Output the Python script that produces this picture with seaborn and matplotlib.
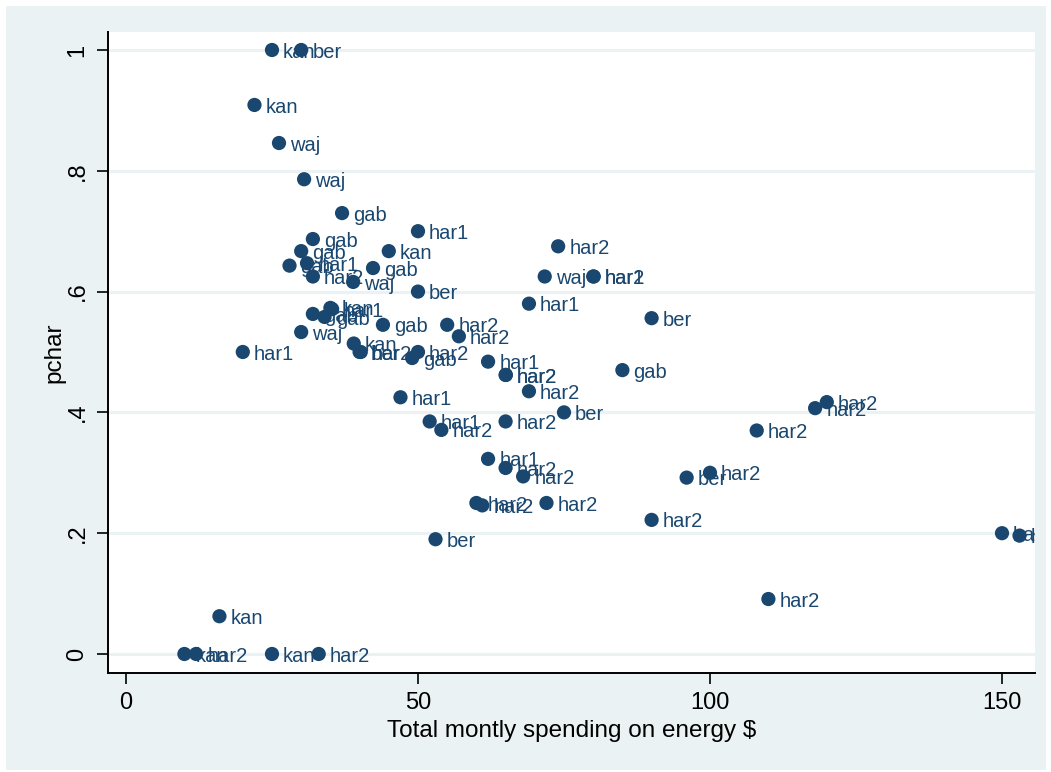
import matplotlib
matplotlib.use("Agg")
import matplotlib.pyplot as plt
import matplotlib.patches as mpatches
import seaborn as sns
import pandas as pd

# Household observations: monthly energy spending, charcoal share, village
spending = [25, 30, 22, 26.2, 30.5, 37, 50, 32, 74, 30, 45, 28, 31, 42.3, 32,
            71.7, 80, 80.1, 38.9, 50, 69, 90, 35, 35.3, 32, 34, 30, 44, 55, 57,
            20, 39, 40, 40.2, 50, 49, 62, 65, 65.05, 69, 85, 47, 52, 54, 65, 75,
            120, 118, 108, 62, 65, 68, 100, 96, 60, 61, 72, 90, 150, 153, 53,
            110, 16, 10, 12, 25, 33]
pchar = [1.0, 1.0, 0.909, 0.846, 0.786, 0.730, 0.700, 0.687, 0.675, 0.667,
         0.667, 0.643, 0.647, 0.639, 0.625, 0.625, 0.625, 0.625, 0.616, 0.600,
         0.580, 0.556, 0.573, 0.571, 0.563, 0.558, 0.533, 0.545, 0.545, 0.526,
         0.500, 0.514, 0.500, 0.500, 0.500, 0.490, 0.484, 0.462, 0.462, 0.435,
         0.470, 0.425, 0.385, 0.371, 0.385, 0.400, 0.417, 0.407, 0.370, 0.323,
         0.308, 0.294, 0.300, 0.292, 0.250, 0.246, 0.250, 0.222, 0.200, 0.196,
         0.190, 0.091, 0.0625, 0.0, 0.0, 0.0, 0.0]
village = ["kan", "ber", "kan", "waj", "waj", "gab", "har1", "gab", "har2", "gab",
           "kan", "gab", "har1", "gab", "har2", "waj", "har2", "har1", "waj", "ber",
           "har1", "ber", "kan", "har1", "gab", "gab", "waj", "gab", "har2", "har2",
           "har1", "kan", "ber", "har2", "har2", "gab", "har1", "har2", "har2", "har2",
           "gab", "har1", "har1", "har2", "har2", "ber", "har2", "har2", "har2", "har1",
           "har2", "har2", "har2", "ber", "har2", "har2", "har2", "har2", "har2", "har2",
           "ber", "har2", "kan", "kan", "har2", "kan", "har2"]

x_ticks = [0, 50, 100, 150]
y_ticks = [0, 0.2, 0.4, 0.6, 0.8, 1.0]
y_tick_labels = ["0", ".2", ".4", ".6", ".8", "1"]

df = pd.DataFrame({"spending": spending, "pchar": pchar, "village": village})

navy = "#1A476F"
region_bg = "#EAF2F3"

sns.set_theme(style="white")
plt.rcParams["font.family"] = ["Liberation Sans", "DejaVu Sans"]

W, H = 1051, 772
fig = plt.figure(figsize=(W / 100, H / 100), dpi=100, facecolor="white")
# graph region: light band framing the plot, thin white margin outside it
fig.patches.append(mpatches.Rectangle((6 / W, 2 / H), (1046 - 6) / W, (766 - 2) / H,
                                      transform=fig.transFigure,
                                      facecolor=region_bg, edgecolor="none",
                                      zorder=-10))
ax = fig.add_axes([108 / W, 1 - 673 / H, (1035 - 108) / W, (673 - 32) / H])
ax.set_facecolor("white")

ax.set_xlim(-3.08, 155.65)
ax.set_ylim(-0.0315, 1.0298)

for yt in y_ticks:
    ax.axhline(yt, color=region_bg, lw=2.2, zorder=0)

sns.scatterplot(data=df, x="spending", y="pchar", color=navy, s=105,
                edgecolor="none", linewidth=0, ax=ax, zorder=3, clip_on=False)

for xv, yv, lab in zip(spending, pchar, village):
    ax.annotate(lab, (xv, yv), xytext=(8, -1.5), textcoords="offset points",
                ha="left", va="center", color=navy, fontsize=14.5,
                zorder=4, annotation_clip=False, clip_on=True)

ax.set_xticks(x_ticks)
ax.set_xticklabels([str(t) for t in x_ticks],
                   family=["Liberation Sans Narrow", "Liberation Sans"], fontsize=17)
ax.set_yticks(y_ticks)
ax.set_yticklabels(y_tick_labels, rotation=90, va="center",
                   family=["Liberation Sans Narrow", "Liberation Sans"], fontsize=17)

ax.tick_params(axis="both", direction="out", length=8, width=1.2, color="black",
               labelcolor="black", bottom=True, left=True, pad=6)

for side in ["top", "right"]:
    ax.spines[side].set_visible(False)
for side in ["left", "bottom"]:
    ax.spines[side].set_color("black")
    ax.spines[side].set_linewidth(1.4)

ax.set_xlabel("Total montly spending on energy $", fontsize=17.5, color="black",
              labelpad=4)
ax.set_ylabel("pchar", fontsize=17.5, color="black", labelpad=1)

fig.savefig("out.png", dpi=100, facecolor=fig.get_facecolor())
